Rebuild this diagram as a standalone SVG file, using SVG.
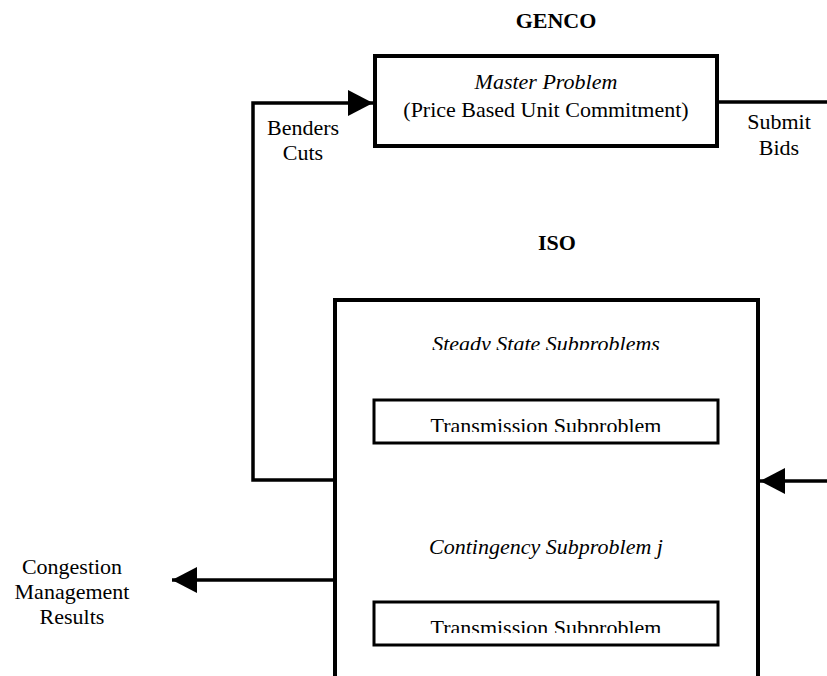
<svg xmlns="http://www.w3.org/2000/svg" width="827" height="676" viewBox="0 0 827 676">
<style>
text{font-family:"Liberation Serif","Times New Roman",serif;font-size:22px;fill:#000}
.b{font-weight:bold;font-size:22px}
.i{font-style:italic}
.box{fill:#fff;stroke:#000;stroke-width:4}
.sub{fill:#fff;stroke:#000;stroke-width:3}
.ln{fill:none;stroke:#000;stroke-width:3.5}
</style>
<defs>
<marker id="ah" viewBox="0 0 25 26" refX="25" refY="13" markerWidth="25" markerHeight="26" markerUnits="userSpaceOnUse" orient="auto">
<path d="M0,0 L25,13 L0,26 Z" fill="#000"/>
</marker>
<clipPath id="c1"><rect x="340" y="320" width="410" height="30"/></clipPath>
<clipPath id="c2"><rect x="380" y="405" width="330" height="27"/></clipPath>
<clipPath id="c3"><rect x="380" y="607" width="330" height="26"/></clipPath>
</defs>
<g id="connectors">
<polyline class="ln" points="333,480 253,480 253,103 373,103" marker-end="url(#ah)"/>
<line class="ln" x1="717" y1="102" x2="827" y2="102"/>
<line class="ln" x1="827" y1="481" x2="760" y2="481" marker-end="url(#ah)"/>
<line class="ln" x1="333" y1="580" x2="172" y2="580" marker-end="url(#ah)"/>
</g>
<g id="genco-label"><text class="b" x="556" y="28" text-anchor="middle">GENCO</text></g>
<g id="master">
<rect class="box" x="375" y="56" width="342" height="90"/>
<text class="i" x="546" y="89" text-anchor="middle">Master Problem</text>
<text x="546" y="117" text-anchor="middle">(Price Based Unit Commitment)</text>
</g>
<g id="benders-label">
<text x="303" y="135" text-anchor="middle">Benders</text>
<text x="303" y="160" text-anchor="middle">Cuts</text>
</g>
<g id="submit-label">
<text x="779" y="129" text-anchor="middle">Submit</text>
<text x="779" y="155" text-anchor="middle">Bids</text>
</g>
<g id="iso-label"><text class="b" x="557" y="250" text-anchor="middle">ISO</text></g>
<g id="iso">
<rect class="box" x="335" y="300" width="423" height="400"/>
<text class="i" x="546" y="351" text-anchor="middle" clip-path="url(#c1)">Steady State Subproblems</text>
<text class="i" x="546" y="554" text-anchor="middle">Contingency Subproblem j</text>
</g>
<g id="trans1">
<rect class="sub" x="374" y="400" width="344" height="43"/>
<text x="546" y="433" text-anchor="middle" clip-path="url(#c2)">Transmission Subproblem</text>
</g>
<g id="trans2">
<rect class="sub" x="374" y="602" width="344" height="43"/>
<text x="546" y="635" text-anchor="middle" clip-path="url(#c3)">Transmission Subproblem</text>
</g>
<g id="results-label">
<text x="72" y="574" text-anchor="middle">Congestion</text>
<text x="72" y="599" text-anchor="middle">Management</text>
<text x="72" y="624" text-anchor="middle">Results</text>
</g>
</svg>
